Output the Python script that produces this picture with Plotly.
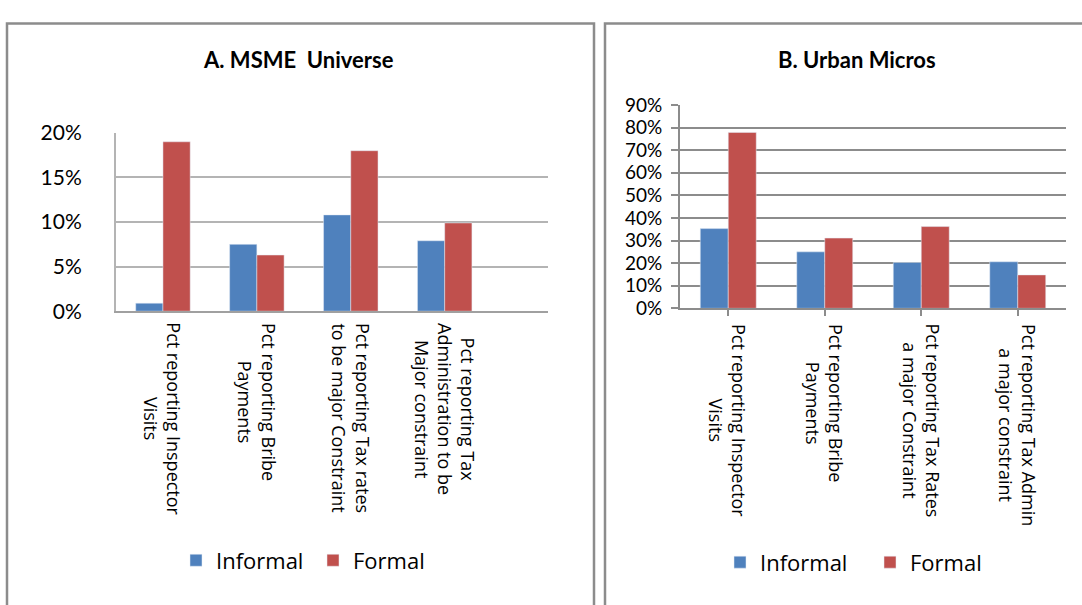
import plotly.graph_objects as go

# ---- data ----
cats_a = ["Pct reporting Inspector<br>Visits",
          "Pct reporting Bribe<br>Payments",
          "Pct reporting Tax rates<br>to be major Constraint",
          "Pct reporting Tax<br>Administration to be<br>Major constraint"]
informal_a = [0.009, 0.075, 0.108, 0.079]
formal_a = [0.190, 0.063, 0.180, 0.099]

cats_b = ["Pct reporting Inspector<br>Visits",
          "Pct reporting Bribe<br>Payments",
          "Pct reporting Tax Rates<br>a major Constraint",
          "Pct reporting Tax Admin<br>a major constraint"]
informal_b = [0.353, 0.250, 0.203, 0.206]
formal_b = [0.779, 0.311, 0.362, 0.148]

ticks_a = [0, 0.05, 0.10, 0.15, 0.20]
ticks_b = [0, 0.1, 0.2, 0.3, 0.4, 0.5, 0.6, 0.7, 0.8, 0.9]

BLUE = "#4F81BD"
RED = "#C0504D"
W, H = 1082, 605

def px_x(p):
    return p / W

def px_y(p):
    return (H - p) / H

fig = go.Figure()
ida = list(range(len(cats_a)))
idb = list(range(len(cats_b)))

fig.add_trace(go.Bar(x=ida, y=informal_a, name="Informal", marker_color=BLUE,
                     xaxis="x", yaxis="y", legend="legend"))
fig.add_trace(go.Bar(x=ida, y=formal_a, name="Formal", marker_color=RED,
                     xaxis="x", yaxis="y", legend="legend"))
fig.add_trace(go.Bar(x=idb, y=informal_b, name="Informal", marker_color=BLUE,
                     xaxis="x2", yaxis="y2", legend="legend2"))
fig.add_trace(go.Bar(x=idb, y=formal_b, name="Formal", marker_color=RED,
                     xaxis="x2", yaxis="y2", legend="legend2"))

LBL = dict(family="Open Sans", size=18, color="#000")
annotations = []
for i, c in enumerate(cats_a):
    annotations.append(dict(x=i, xref="x", y=px_y(320), yref="paper", text=c,
                            textangle=90, showarrow=False, xanchor="center",
                            yanchor="top", align="center", font=LBL))
for i, c in enumerate(cats_b):
    annotations.append(dict(x=i, xref="x2", y=px_y(321), yref="paper", text=c,
                            textangle=90, showarrow=False, xanchor="center",
                            yanchor="top", align="center", font=LBL))
annotations.append(dict(x=px_x(298), y=px_y(47), xref="paper", yref="paper",
                        text="<b>A. MSME  Universe</b>", showarrow=False,
                        xanchor="center", yanchor="middle",
                        font=dict(family="Lato", size=22, color="#000")))
annotations.append(dict(x=px_x(857), y=px_y(47), xref="paper", yref="paper",
                        text="<b>B. Urban Micros</b>", showarrow=False,
                        xanchor="center", yanchor="middle",
                        font=dict(family="Lato", size=22, color="#000")))

shapes = [
    dict(type="rect", xref="paper", yref="paper", x0=px_x(7), x1=px_x(594),
         y0=-0.05, y1=px_y(10), line=dict(color="#8c8c8c", width=2.5)),
    dict(type="rect", xref="paper", yref="paper", x0=px_x(605), x1=1.05,
         y0=-0.05, y1=px_y(10), line=dict(color="#8c8c8c", width=2.5)),
]

fig.update_layout(
    width=W, height=H,
    margin=dict(l=0, r=0, t=0, b=0),
    paper_bgcolor="white", plot_bgcolor="white",
    barmode="group", bargap=0.42, bargroupgap=0,
    showlegend=True,
    annotations=annotations,
    shapes=shapes,
    xaxis=dict(domain=[px_x(116), px_x(548)], range=[-0.5, 4.1], anchor="y",
               showticklabels=False, showgrid=False, zeroline=False,
               showline=True, linecolor="#a0a0a0", linewidth=2, ticks=""),
    yaxis=dict(domain=[px_y(310), px_y(124)], range=[0, 0.2], anchor="x",
               tickvals=ticks_a, tickformat=".0%",
               showgrid=True, gridcolor="#b4b4b4", gridwidth=2,
               zeroline=False, showline=True, linecolor="#b4b4b4", linewidth=2,
               ticks="", ticklabelstandoff=28,
               tickfont=dict(family="Lato", size=21, color="#000")),
    xaxis2=dict(domain=[px_x(680), px_x(1066)], range=[-0.5, 3.5], anchor="y2",
                tickmode="array", tickvals=idb, showticklabels=False,
                tickson="boundaries", ticks="outside", ticklen=6,
                tickcolor="#8c8c8c", tickwidth=2,
                showgrid=False, zeroline=False,
                showline=True, linecolor="#8c8c8c", linewidth=2),
    yaxis2=dict(domain=[px_y(307), px_y(95)], range=[0, 0.9], anchor="x2",
                tickvals=ticks_b, tickformat=".0%",
                showgrid=True, gridcolor="#8c8c8c", gridwidth=2,
                zeroline=False, showline=True, linecolor="#8c8c8c", linewidth=2,
                ticks="outside", ticklen=7, tickcolor="#8c8c8c", tickwidth=2,
                ticklabelstandoff=5,
                tickfont=dict(family="Lato", size=19, color="#000")),
    legend=dict(orientation="h", x=px_x(176), y=px_y(570), xanchor="left",
                yanchor="middle", font=dict(family="Open Sans", size=22, color="#000"),
                itemwidth=30, entrywidth=92, traceorder="normal",
                bgcolor="rgba(0,0,0,0)"),
    legend2=dict(orientation="h", x=px_x(720), y=px_y(572), xanchor="left",
                 yanchor="middle", font=dict(family="Open Sans", size=22, color="#000"),
                 itemwidth=30, entrywidth=105, traceorder="normal",
                 bgcolor="rgba(0,0,0,0)"),
)

fig.write_html("out.html")
